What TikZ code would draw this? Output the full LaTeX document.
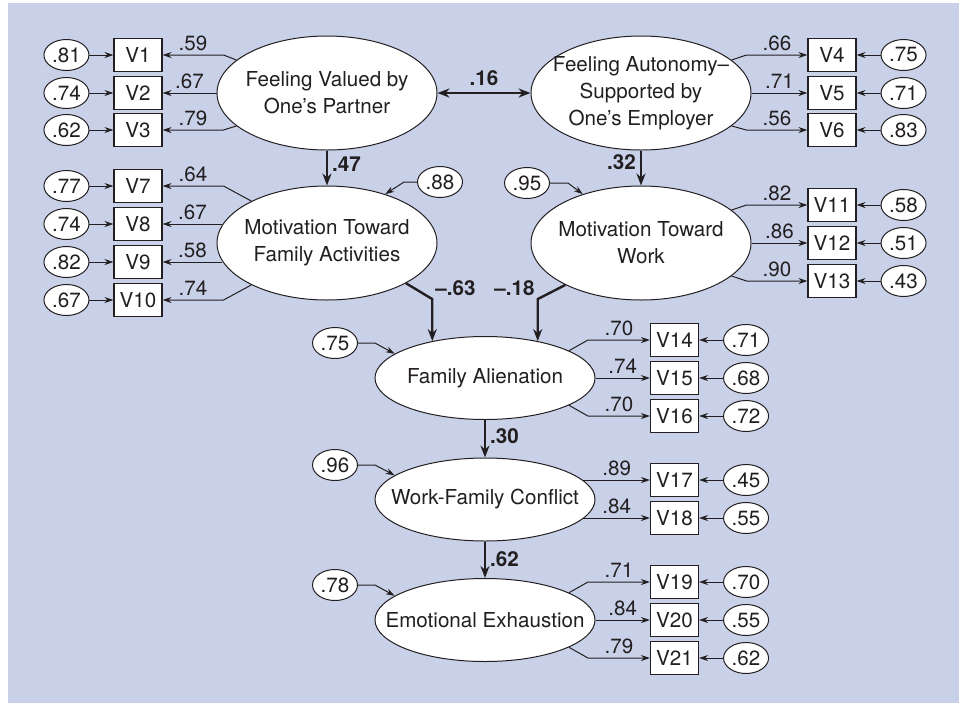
\documentclass[tikz,border=0pt]{standalone}
\usepackage{fontspec}
\setmainfont{TeX Gyre Heros}
\usetikzlibrary{arrows.meta,positioning,shapes.geometric}
\definecolor{panelblue}{HTML}{C9D1E9}
\definecolor{semink}{HTML}{231F20}
\tikzset{
  latent/.style={
    ellipse,
    draw=semink,
    line width=0.5pt,
    fill=white,
    text=semink,
    minimum width=110pt,
    minimum height=57pt,
    inner xsep=-12pt,
    inner ysep=0pt,
    align=center,
    font=\fontsize{10.3}{13.4}\selectfont
  },
  outcome/.style={latent, minimum height=41.5pt},
  ind/.style={
    draw=semink,
    line width=0.55pt,
    fill=white,
    text=semink,
    minimum width=24pt,
    minimum height=16.5pt,
    inner sep=0pt,
    font=\fontsize{10.3}{12}\selectfont
  },
  err/.style={
    ellipse,
    draw=semink,
    line width=0.5pt,
    fill=white,
    text=semink,
    minimum width=22.5pt,
    minimum height=15.5pt,
    inner sep=0pt,
    font=\fontsize{10.3}{12}\selectfont
  },
  coef/.style={font=\fontsize{10.3}{12}\selectfont, text=semink, inner sep=2pt},
  beta/.style={coef, font=\fontsize{10.3}{12}\selectfont\bfseries},
  load/.style={-{Stealth[length=4.5pt,width=3pt]}, line width=0.5pt, draw=semink},
  regress/.style={-{Stealth[length=6pt,width=4.5pt]}, line width=1.2pt, draw=semink},
  covary/.style={regress, <->, >={Stealth[length=6pt,width=4.5pt]}}
}

\begin{document}
\begin{tikzpicture}[x=0.5pt,y=-0.5pt]

\useasboundingbox (0,0) rectangle (964,703);
\fill[panelblue] (8,3) rectangle (959,703);

% latent variables
\node[latent] (fv) at (327,93) {Feeling Valued by\\One’s Partner};
\node[latent] (fa) at (641,93) {Feeling Autonomy–\\Supported by\\One’s Employer};
\node[latent] (mf) at (327,243) {Motivation Toward\\Family Activities};
\node[latent] (mw) at (641,243) {Motivation Toward\\Work};
\node[outcome] (fal) at (485,378) {Family Alienation};
\node[outcome] (wfc) at (485,499.5) {Work-Family Conflict};
\node[outcome] (ee) at (485,620) {Emotional Exhaustion};

% indicators with their error terms
\node[ind] (v1) at (138,55) {V1};   \node[err, left=12pt of v1] (e1) {.81};
\node[ind] (v2) at (138,93) {V2};   \node[err, left=12pt of v2] (e2) {.74};
\node[ind] (v3) at (138,130) {V3};  \node[err, left=12pt of v3] (e3) {.62};
\node[ind] (v7) at (138,186) {V7};  \node[err, left=12pt of v7] (e7) {.77};
\node[ind] (v8) at (138,224) {V8};  \node[err, left=12pt of v8] (e8) {.74};
\node[ind] (v9) at (138,262) {V9};  \node[err, left=12pt of v9] (e9) {.82};
\node[ind] (v10) at (138,300) {V10}; \node[err, left=12pt of v10] (e10) {.67};

\node[ind] (v4) at (832,55) {V4};   \node[err, right=12pt of v4] (e4) {.75};
\node[ind] (v5) at (832,93) {V5};   \node[err, right=12pt of v5] (e5) {.71};
\node[ind] (v6) at (832,130) {V6};  \node[err, right=12pt of v6] (e6) {.83};
\node[ind] (v11) at (832,205) {V11}; \node[err, right=12pt of v11] (e11) {.58};
\node[ind] (v12) at (832,243) {V12}; \node[err, right=12pt of v12] (e12) {.51};
\node[ind] (v13) at (832,281) {V13}; \node[err, right=12pt of v13] (e13) {.43};

\node[ind] (v14) at (674.5,340) {V14}; \node[err, right=12pt of v14] (e14) {.71};
\node[ind] (v15) at (674.5,378) {V15}; \node[err, right=12pt of v15] (e15) {.68};
\node[ind] (v16) at (674.5,416) {V16}; \node[err, right=12pt of v16] (e16) {.72};
\node[ind] (v17) at (674.5,480) {V17}; \node[err, right=12pt of v17] (e17) {.45};
\node[ind] (v18) at (674.5,518) {V18}; \node[err, right=12pt of v18] (e18) {.55};
\node[ind] (v19) at (674.5,582) {V19}; \node[err, right=12pt of v19] (e19) {.70};
\node[ind] (v20) at (674.5,620) {V20}; \node[err, right=12pt of v20] (e20) {.55};
\node[ind] (v21) at (674.5,658) {V21}; \node[err, right=12pt of v21] (e21) {.62};

% disturbances
\node[err] (d88) at (440,182) {.88};
\node[err] (d95) at (527,183) {.95};
\node[err] (d75) at (335,343) {.75};
\node[err] (d96) at (335,465) {.96};
\node[err] (d78) at (335,585) {.78};

\draw[load] (e1) -- (v1);   \draw[load] (e2) -- (v2);   \draw[load] (e3) -- (v3);
\draw[load] (e7) -- (v7);   \draw[load] (e8) -- (v8);   \draw[load] (e9) -- (v9);
\draw[load] (e10) -- (v10);
\draw[load] (e4) -- (v4);   \draw[load] (e5) -- (v5);   \draw[load] (e6) -- (v6);
\draw[load] (e11) -- (v11); \draw[load] (e12) -- (v12); \draw[load] (e13) -- (v13);
\draw[load] (e14) -- (v14); \draw[load] (e15) -- (v15); \draw[load] (e16) -- (v16);
\draw[load] (e17) -- (v17); \draw[load] (e18) -- (v18);
\draw[load] (e19) -- (v19); \draw[load] (e20) -- (v20); \draw[load] (e21) -- (v21);

\draw[load] (d88.west) -- ++(-13,0) -- (mf.40);
\draw[load] (d95.east) -- ++(18,0) -- (mw.140);
\draw[load] (d75.east) -- ++(17,0) -- (fal.165);
\draw[load] (d96.east) -- ++(17,0) -- (wfc.165);
\draw[load] (d78.east) -- ++(17,0) -- (ee.165);

% loadings
\draw[load] (fv.160) -- ([xshift=30.5pt]v1.east) -- node[coef, above] {.59} (v1);
\draw[load] (fv) -- node[coef, above] {.67} (v2);
\draw[load] (fv.200) -- ([xshift=30.5pt]v3.east) -- node[coef, above] {.79} (v3);

\draw[load] (mf.151) -- ([xshift=30.5pt]v7.east) -- node[coef, above] {.64} (v7);
\draw[load] (v8.east -| mf.170) -- node[coef, above] {.67} (v8);
\draw[load] (v9.east -| mf.190) -- node[coef, above] {.58} (v9);
\draw[load] (mf.209) -- ([xshift=30.5pt]v10.east) -- node[coef, above] {.74} (v10);

\draw[load] (fa.20) -- ([xshift=-30.5pt]v4.west) -- node[coef, above] {.66} (v4);
\draw[load] (fa) -- node[coef, above] {.71} (v5);
\draw[load] (fa.340) -- ([xshift=-30.5pt]v6.west) -- node[coef, above] {.56} (v6);

\draw[load] (mw.20) -- ([xshift=-30.5pt]v11.west) -- node[coef, above] {.82} (v11);
\draw[load] (mw) -- node[coef, above] {.86} (v12);
\draw[load] (mw.340) -- ([xshift=-30.5pt]v13.west) -- node[coef, above] {.90} (v13);

\draw[load] (fal.18) -- ([xshift=-31pt]v14.west) -- node[coef, above] {.70} (v14);
\draw[load] (fal) -- node[coef, above] {.74} (v15);
\draw[load] (fal.342) -- ([xshift=-31pt]v16.west) -- node[coef, above] {.70} (v16);

\draw[load] (v17.west -| wfc.11) -- node[coef, above] {.89} (v17);
\draw[load] (v18.west -| wfc.349) -- node[coef, above] {.84} (v18);

\draw[load] (ee.18) -- ([xshift=-31pt]v19.west) -- node[coef, above] {.71} (v19);
\draw[load] (ee) -- node[coef, above] {.84} (v20);
\draw[load] (ee.342) -- ([xshift=-31pt]v21.west) -- node[coef, above] {.79} (v21);

% structural paths
\draw[covary] (fv) -- node[beta, above=1pt] {.16} (fa);
\draw[regress] (fv) -- node[beta, right, pos=0.38] {.47} (mf);
\draw[regress] (fa) -- node[beta, left, pos=0.33] {.32} (mw);
\draw[regress] (mf.333) -- ([yshift=21pt]fal.145) node[beta, anchor=south west, inner sep=1pt] {–.63} -- (fal.145);
\draw[regress] (mw.209) -- ([yshift=21pt]fal.35) node[beta, anchor=south east, inner sep=1pt] {–.18} -- (fal.35);
\draw[regress] (fal) -- node[beta, right, pos=0.44] {.30} (wfc);
\draw[regress] (wfc) -- node[beta, right, pos=0.47] {.62} (ee);

\end{tikzpicture}
\end{document}
